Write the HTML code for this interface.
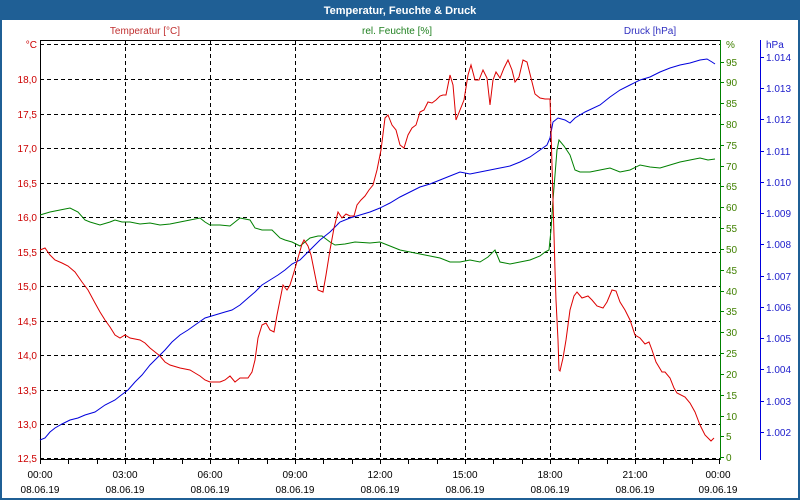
<!DOCTYPE html>
<html><head><meta charset="utf-8"><style>
body{margin:0;width:800px;height:500px;overflow:hidden;background:#fff}
svg{display:block;font-family:"Liberation Sans",sans-serif;font-size:10px}
</style></head><body>
<svg width="800" height="500" xmlns="http://www.w3.org/2000/svg">
<rect x="0" y="0" width="800" height="500" fill="#1f5f95"/>
<rect x="2" y="20" width="796" height="478" fill="#fff"/>
<text x="400" y="14" fill="#fff" font-weight="bold" font-size="11" text-anchor="middle">Temperatur, Feuchte &amp; Druck</text>
<text x="145" y="34" fill="#c03030" text-anchor="middle">Temperatur [°C]</text>
<text x="397" y="34" fill="#208020" text-anchor="middle">rel. Feuchte [%]</text>
<text x="650" y="34" fill="#3030c0" text-anchor="middle">Druck [hPa]</text>
<g stroke="#000" stroke-width="1" stroke-dasharray="4,3" fill="none">
<path d="M40 44.5H720M40 79.5H720M40 114.5H720M40 148.5H720M40 183.5H720M40 217.5H720M40 252.5H720M40 286.5H720M40 321.5H720M40 355.5H720M40 390.5H720M40 424.5H720M40 458.5H720"/>
<path d="M125.5 40V459M210.5 40V459M295.5 40V459M380.5 40V459M465.5 40V459M550.5 40V459M635.5 40V459"/>
</g>
<path d="M40 40.5H720" stroke="#000"/>
<path d="M40.5 40V460M40 459.5H720" stroke="#000"/>
<g stroke="#000"><path d="M68.5 460v4M97.5 460v4M125.5 460v4M153.5 460v4M182.5 460v4M210.5 460v4M238.5 460v4M267.5 460v4M295.5 460v4M323.5 460v4M352.5 460v4M380.5 460v4M408.5 460v4M437.5 460v4M465.5 460v4M493.5 460v4M522.5 460v4M550.5 460v4M578.5 460v4M607.5 460v4M635.5 460v4M663.5 460v4M692.5 460v4M719.5 460v4M40.5 460v4"/></g>
<g fill="#000" text-anchor="middle">
<text x="40" y="478">00:00</text><text x="125" y="478">03:00</text><text x="210" y="478">06:00</text><text x="295" y="478">09:00</text><text x="380" y="478">12:00</text><text x="465" y="478">15:00</text><text x="550" y="478">18:00</text><text x="635" y="478">21:00</text><text x="718" y="478">00:00</text>
<text x="40" y="493">08.06.19</text><text x="125" y="493">08.06.19</text><text x="210" y="493">08.06.19</text><text x="295" y="493">08.06.19</text><text x="380" y="493">08.06.19</text><text x="465" y="493">08.06.19</text><text x="550" y="493">08.06.19</text><text x="635" y="493">08.06.19</text><text x="718" y="493">09.06.19</text>
</g>
<g fill="#cc0000" text-anchor="end">
<text x="37" y="48">°C</text><text x="37" y="83">18,0</text><text x="37" y="118">17,5</text><text x="37" y="152">17,0</text><text x="37" y="187">16,5</text><text x="37" y="221">16,0</text><text x="37" y="256">15,5</text><text x="37" y="290">15,0</text><text x="37" y="325">14,5</text><text x="37" y="359">14,0</text><text x="37" y="394">13,5</text><text x="37" y="428">13,0</text><text x="37" y="462">12,5</text>
</g>
<path d="M720.5 40V460" stroke="#008000"/>
<g fill="#408000">
<text x="726" y="48">%</text><text x="726" y="66">95</text><text x="726" y="86">90</text><text x="726" y="107">85</text><text x="726" y="128">80</text><text x="726" y="149">75</text><text x="726" y="170">70</text><text x="726" y="190">65</text><text x="726" y="211">60</text><text x="726" y="232">55</text><text x="726" y="253">50</text><text x="726" y="274">45</text><text x="726" y="295">40</text><text x="726" y="315">35</text><text x="726" y="336">30</text><text x="726" y="357">25</text><text x="726" y="378">20</text><text x="726" y="399">15</text><text x="726" y="420">10</text><text x="726" y="440">5</text><text x="726" y="461">0</text>
</g>
<path d="M720 62.5h4M720 82.5h4M720 103.5h4M720 124.5h4M720 145.5h4M720 166.5h4M720 186.5h4M720 207.5h4M720 228.5h4M720 249.5h4M720 270.5h4M720 291.5h4M720 311.5h4M720 332.5h4M720 353.5h4M720 374.5h4M720 395.5h4M720 416.5h4M720 436.5h4M720 457.5h4" stroke="#008000"/>
<path d="M760.5 40V460" stroke="#0000dd"/>
<path d="M760 57.5h4M760 88.5h4M760 119.5h4M760 151.5h4M760 182.5h4M760 213.5h4M760 244.5h4M760 276.5h4M760 307.5h4M760 338.5h4M760 369.5h4M760 401.5h4M760 432.5h4" stroke="#0000dd"/>
<g fill="#2020cc">
<text x="766" y="48">hPa</text><text x="766" y="61">1.014</text><text x="766" y="92">1.013</text><text x="766" y="123">1.012</text><text x="766" y="155">1.011</text><text x="766" y="186">1.010</text><text x="766" y="217">1.009</text><text x="766" y="248">1.008</text><text x="766" y="280">1.007</text><text x="766" y="311">1.006</text><text x="766" y="342">1.005</text><text x="766" y="373">1.004</text><text x="766" y="405">1.003</text><text x="766" y="436">1.002</text>
</g>
<polyline fill="none" stroke="#008000" points="40,215 50,212 60,210 70,208 78,212 85,220 90,222 100,225 110,222 115,220 122,222 130,222 140,224 150,223 160,225 170,224 180,222 190,220 200,218 205,222 210,225 220,225 230,226 235,222 240,218 250,220 255,228 262,230 272,230 280,238 285,240 292,242 300,246 305,242 310,238 318,236 322,236 330,242 335,245 345,244 355,242 370,243 380,242 390,246 400,250 410,252 420,254 430,256 440,258 450,262 460,262 470,260 480,262 488,257 495,250 500,262 510,264 520,262 530,260 540,256 545,252 549,250 551,230 553,200 555,175 557,150 559,140 564,146 570,155 575,170 580,172 590,172 600,170 610,168 620,172 630,170 640,165 650,167 660,168 670,165 680,162 690,160 700,158 708,160 715,159"/>
<polyline fill="none" stroke="#0000dd" points="40,440 45,438 50,432 55,428 62,424 70,420 78,418 85,415 95,412 105,405 115,400 120,396 128,390 135,382 142,375 150,365 158,357 165,350 172,342 180,335 188,330 195,325 205,318 215,315 225,312 232,310 240,305 248,298 255,292 262,285 270,280 278,275 285,270 292,264 300,260 310,250 320,240 330,232 340,222 350,218 360,215 370,212 380,208 390,203 400,197 410,192 420,187 430,184 440,180 450,176 460,172 470,174 480,172 490,170 500,168 510,166 520,162 530,157 540,150 547,145 550,138 553,122 558,118 565,120 570,123 575,118 585,112 600,105 610,97 620,90 630,85 640,80 650,77 660,72 670,68 680,65 690,63 700,60 707,59 712,62 715,64"/>
<polyline fill="none" stroke="#dd0000" points="40,250 45,248 50,255 55,260 62,263 68,266 75,272 82,282 88,290 95,303 100,312 105,320 110,327 115,335 120,338 125,335 130,338 140,340 145,343 150,348 155,352 160,356 165,362 170,365 180,368 190,370 195,373 200,376 205,380 210,382 220,382 225,380 230,376 235,382 240,378 248,378 252,372 255,360 258,338 262,325 266,323 270,330 274,332 277,315 280,300 283,285 287,290 290,285 294,272 298,258 302,244 304,240 308,246 311,255 314,270 318,290 323,292 326,275 330,250 334,228 338,212 342,218 346,214 350,216 354,216 357,205 361,200 365,196 369,190 373,185 377,170 381,150 385,118 388,115 392,125 396,130 400,145 404,148 408,135 412,128 416,125 420,112 424,110 428,102 432,103 436,100 440,96 443,95 446,95 450,75 453,85 456,120 460,110 464,100 468,75 471,65 475,80 479,80 483,70 487,78 490,105 493,80 496,72 500,78 504,68 508,60 512,70 515,82 519,77 523,60 527,62 531,78 535,94 540,98 545,99 550,99 551,130 553,200 555,270 556,300 558,340 559,370 560,371 563,358 566,340 570,310 574,296 577,292 582,298 588,296 592,300 597,306 603,308 607,302 612,290 616,291 620,302 625,310 630,320 635,335 640,338 645,344 649,342 652,350 656,362 662,372 665,372 670,378 674,388 677,393 685,397 690,403 695,412 700,425 705,435 711,441 714,438"/>
</svg>
</body></html>
